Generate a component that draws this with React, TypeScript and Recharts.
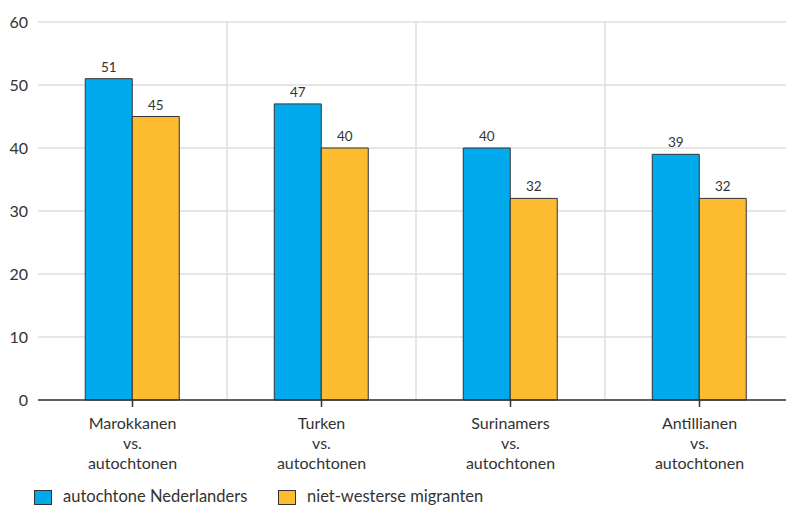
import React from "react";
import {
  BarChart,
  Bar,
  XAxis,
  YAxis,
  CartesianGrid,
  LabelList,
  Legend,
} from "recharts";

const categories = ["Marokkanen", "Turken", "Surinamers", "Antillianen"];
const autochtoneNederlanders = [51, 47, 40, 39];
const nietWesterseMigranten = [45, 40, 32, 32];
const yTicks = [0, 10, 20, 30, 40, 50, 60];
const seriesNames = ["autochtone Nederlanders", "niet-westerse migranten"];

const BLUE = "#00aaec";
const ORANGE = "#fdbb30";
const INK = "#333333";
const FONT = "Lato, 'Noto Sans', sans-serif";

const data = categories.map((c, i) => ({
  name: c,
  a: autochtoneNederlanders[i],
  b: nietWesterseMigranten[i],
}));

// Three-line category label: "<group>", "vs.", "autochtonen"
const CategoryTick = (props: any) => {
  const { x, y, payload } = props;
  const lines = [payload.value, "vs.", "autochtonen"];
  return (
    <text x={x} y={y} textAnchor="middle" fill={INK} fontSize={16} fontFamily={FONT}>
      {lines.map((l, i) => (
        <tspan key={i} x={x} dy={20}>
          {l}
        </tspan>
      ))}
    </text>
  );
};

// Legend strip: swatch + series name per item
const LegendBox = () => {
  const colors = [BLUE, ORANGE];
  const itemX = [34, 278];
  return (
    <svg width={786} height={38} style={{ display: "block" }}>
      {seriesNames.map((n, i) => (
        <g key={n}>
          <rect
            x={itemX[i] + 0.5}
            y={8.5}
            width={17}
            height={14}
            fill={colors[i]}
            stroke={INK}
            strokeWidth={1}
          />
          <text x={itemX[i] + 29} y={19.5} fill={INK} fontSize={16.5} fontFamily={FONT}>
            {n}
          </text>
        </g>
      ))}
    </svg>
  );
};

export default function App() {
  return (
    <div
      style={{
        position: "fixed",
        left: 0,
        top: 0,
        width: 786,
        height: 506,
        overflow: "hidden",
        background: "#fff",
      }}
    >
      <BarChart
        width={786}
        height={506}
        data={data}
        margin={{ top: 22, right: -8, bottom: -14, left: 0 }}
        barCategoryGap="25%"
        barGap={0}
        style={{ fontFamily: FONT }}
      >
        <CartesianGrid
          stroke="#dedede"
          strokeWidth={1.5}
          verticalCoordinatesGenerator={({ offset }: any) =>
            [1, 2, 3].map((i) => offset.left + (offset.width * i) / categories.length)
          }
        />
        <XAxis
          dataKey="name"
          height={82}
          tick={<CategoryTick />}
          tickSize={7}
          axisLine={{ stroke: INK, strokeWidth: 1.5 }}
          tickLine={{ stroke: INK, strokeWidth: 1.5 }}
          interval={0}
        />
        <YAxis
          width={38}
          domain={[0, 60]}
          ticks={yTicks}
          axisLine={false}
          tickLine={false}
          tickMargin={4}
          tick={{ fill: INK, fontSize: 16, fontFamily: FONT }}
        />
        <Legend verticalAlign="bottom" content={<LegendBox />} />
        <Bar
          dataKey="a"
          name={seriesNames[0]}
          fill={BLUE}
          stroke={INK}
          strokeWidth={1}
          isAnimationActive={false}
        >
          <LabelList dataKey="a" position="top" offset={7} fill={INK} fontSize={13.5} fontFamily={FONT} />
        </Bar>
        <Bar
          dataKey="b"
          name={seriesNames[1]}
          fill={ORANGE}
          stroke={INK}
          strokeWidth={1}
          isAnimationActive={false}
        >
          <LabelList dataKey="b" position="top" offset={7} fill={INK} fontSize={13.5} fontFamily={FONT} />
        </Bar>
      </BarChart>
    </div>
  );
}
